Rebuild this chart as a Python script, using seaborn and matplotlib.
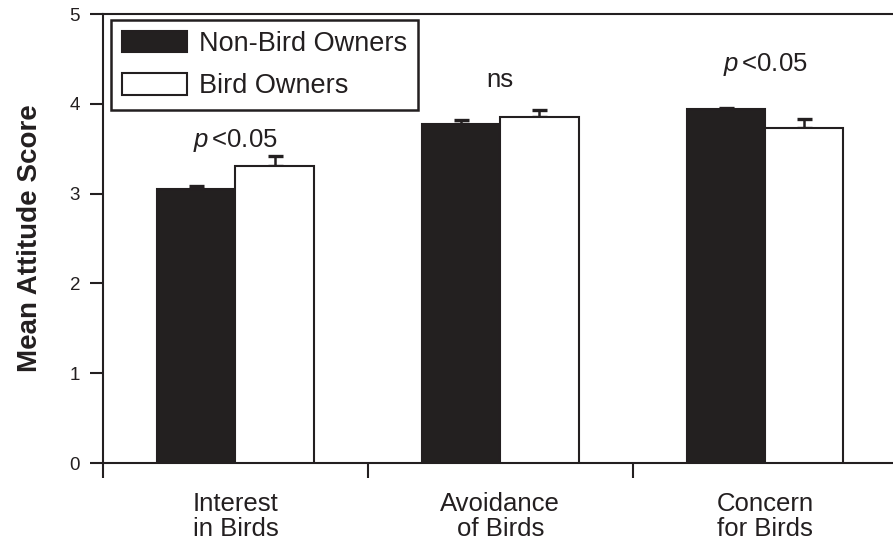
import matplotlib.pyplot as plt
import seaborn as sns
import pandas as pd

categories = ["Interest\nin Birds", "Avoidance\nof Birds", "Concern\nfor Birds"]
groups = ["Non-Bird Owners", "Bird Owners"]
non_owner_means = [3.05, 3.78, 3.94]
non_owner_err = [0.04, 0.045, 0.015]
owner_means = [3.31, 3.85, 3.73]
owner_err = [0.11, 0.08, 0.10]
sig_labels = [r"$p\,$<0.05", "ns", r"$p\,$<0.05"]
sig_heights = [3.52, 4.19, 4.37]
yticks = [0, 1, 2, 3, 4, 5]

ink = "#231f20"

df = pd.DataFrame({
    "category": categories * 2,
    "group": [groups[0]] * 3 + [groups[1]] * 3,
    "score": non_owner_means + owner_means,
})

sns.set_theme(style="ticks")
plt.rcParams["font.family"] = ["Liberation Sans", "DejaVu Sans"]
plt.rcParams["mathtext.fontset"] = "custom"
plt.rcParams["mathtext.it"] = "Liberation Sans:italic"
plt.rcParams["mathtext.rm"] = "Liberation Sans"
plt.rcParams["text.color"] = ink

fig = plt.figure(figsize=(8.93, 5.43), dpi=100)
ax = fig.add_axes([0.1153, 0.1473, 0.890, 0.8269])

sns.barplot(
    data=df, x="category", y="score", hue="group",
    order=categories, hue_order=groups,
    palette=[ink, "white"], width=0.59, errorbar=None,
    edgecolor=ink, linewidth=1.5, ax=ax, zorder=3,
)

# one-sided (upper) error bars at each bar
for cont, errs in zip(ax.containers, [non_owner_err, owner_err]):
    for bar, e in zip(cont, errs):
        xc = bar.get_x() + bar.get_width() / 2
        h = bar.get_height()
        ax.errorbar(xc, h, yerr=[[0], [e]], fmt="none", ecolor=ink,
                    elinewidth=1.8, capsize=5.4, capthick=2.4, zorder=2)

for i, (lab, yh) in enumerate(zip(sig_labels, sig_heights)):
    ax.text(i, yh, lab, ha="center", va="baseline", fontsize=18.5, color=ink)

ax.set_xlim(-0.5, 2.5)
ax.set_ylim(0, 5)
ax.set_yticks(yticks)
ax.set_yticklabels([str(t) for t in yticks], fontsize=13.5, color=ink)
ax.set_xticks(range(len(categories)))
ax.set_xticklabels(categories, fontsize=18.5, color=ink, linespacing=1.02)
ax.set_xticks([-0.5, 0.5, 1.5, 2.5], minor=True)
ax.tick_params(axis="x", which="major", length=0, pad=21)
ax.tick_params(axis="x", which="minor", length=11, width=1.5, color=ink)
ax.tick_params(axis="y", length=9.5, width=1.5, color=ink, pad=7)
ax.set_xlabel("")
ax.set_ylabel("Mean Attitude Score", fontsize=20, fontweight="bold",
              color=ink, labelpad=19)

for side in ["left", "bottom", "top", "right"]:
    ax.spines[side].set_visible(True)
    ax.spines[side].set_color(ink)
    ax.spines[side].set_linewidth(1.5)

leg = ax.legend(
    loc="upper left", bbox_to_anchor=(0.010, 0.987), borderaxespad=0,
    fontsize=19.5, frameon=True, fancybox=False, edgecolor=ink,
    framealpha=1, handlelength=2.4, handleheight=0.85, handletextpad=0.45,
    labelspacing=0.6, borderpad=0.4, title=None,
)
leg.get_frame().set_linewidth(1.8)
for t in leg.get_texts():
    t.set_color(ink)

fig.savefig("out.png", dpi=100)
